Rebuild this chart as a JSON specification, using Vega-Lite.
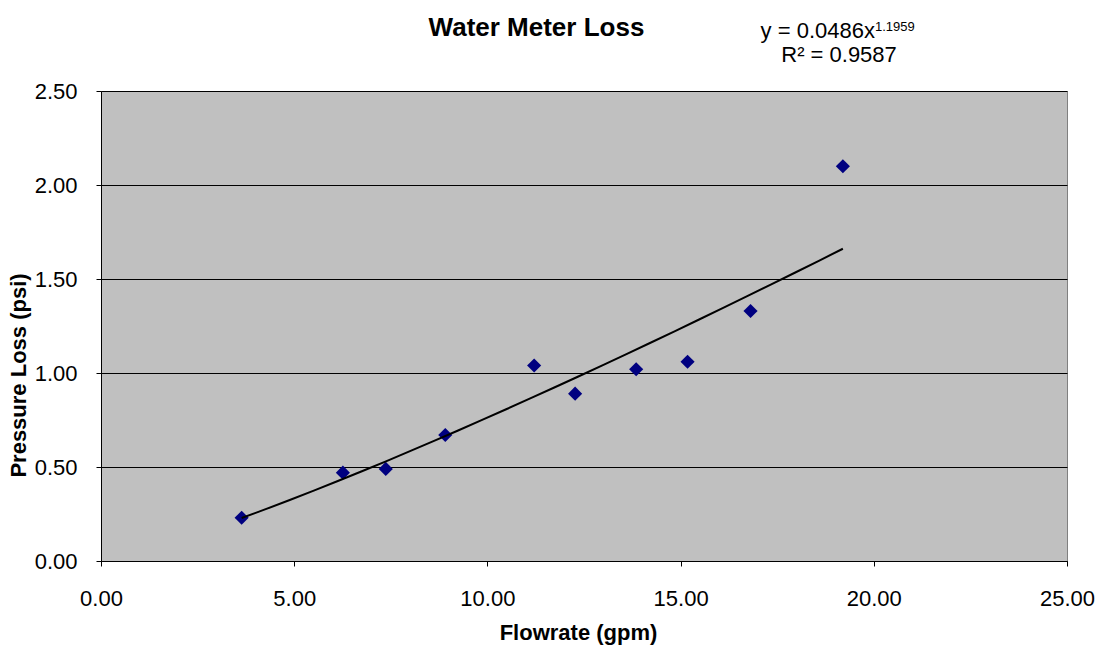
{
  "$schema": "https://vega.github.io/schema/vega-lite/v6.json",
  "autosize": "none",
  "width": 966,
  "height": 470,
  "padding": {"left": 101, "top": 91, "right": 40, "bottom": 86},
  "background": "white",
  "config": {
    "view": {"fill": "#C0C0C0", "stroke": "#808080", "strokeWidth": 1},
    "font": "Liberation Sans",
    "axis": {
      "labelFont": "Liberation Sans",
      "labelFontSize": 22,
      "labelColor": "black",
      "titleFont": "Liberation Sans",
      "titleFontSize": 22,
      "titleFontWeight": "bold",
      "titleColor": "black",
      "domainColor": "black",
      "tickColor": "black",
      "tickSize": 5,
      "gridColor": "black",
      "gridOpacity": 1,
      "gridWidth": 1
    }
  },
  "datasets": {
    "meter": [
      {"flow": 3.64, "loss": 0.23},
      {"flow": 6.26, "loss": 0.47},
      {"flow": 7.37, "loss": 0.49},
      {"flow": 8.91, "loss": 0.67},
      {"flow": 11.21, "loss": 1.04},
      {"flow": 12.27, "loss": 0.89},
      {"flow": 13.85, "loss": 1.02},
      {"flow": 15.18, "loss": 1.06},
      {"flow": 16.81, "loss": 1.33},
      {"flow": 19.2, "loss": 2.1}
    ],
    "one": [{"label": "annotation"}]
  },
  "layer": [
    {
      "data": {"name": "meter"},
      "mark": {"type": "point", "shape": "diamond", "filled": true, "color": "#000080", "opacity": 1, "size": 200},
      "encoding": {
        "x": {
          "field": "flow",
          "type": "quantitative",
          "scale": {"domain": [0, 25], "nice": false, "zero": true},
          "axis": {
            "title": "Flowrate (gpm)",
            "values": [0, 5, 10, 15, 20, 25],
            "format": ".2f",
            "grid": false,
            "labelPadding": 22,
            "labelFlush": false,
            "labelOverlap": false,
            "titleX": 477,
            "titleY": 78.5,
            "titleAlign": "center",
            "titleBaseline": "alphabetic"
          }
        },
        "y": {
          "field": "loss",
          "type": "quantitative",
          "scale": {"domain": [0, 2.5], "nice": false},
          "axis": {
            "title": "Pressure Loss (psi)",
            "values": [0, 0.5, 1, 1.5, 2, 2.5],
            "format": ".2f",
            "grid": true,
            "labelPadding": 19,
            "labelFlush": false,
            "labelOverlap": false,
            "titleX": -83,
            "titleY": 284,
            "titleAngle": -90,
            "titleAlign": "center",
            "titleBaseline": "middle"
          }
        }
      }
    },
    {
      "data": {"name": "meter"},
      "transform": [{"regression": "loss", "on": "flow", "method": "pow"}],
      "mark": {"type": "line", "color": "black", "strokeWidth": 2},
      "encoding": {
        "x": {"field": "flow", "type": "quantitative"},
        "y": {"field": "loss", "type": "quantitative"}
      }
    },
    {
      "data": {"name": "one"},
      "mark": {"type": "text", "align": "center", "baseline": "alphabetic", "fontSize": 26, "fontWeight": "bold", "font": "Liberation Sans", "color": "black", "text": "Water Meter Loss"},
      "encoding": {"x": {"datum": 11.27, "type": "quantitative"}, "y": {"datum": 2.795, "type": "quantitative"}}
    },
    {
      "data": {"name": "one"},
      "mark": {"type": "text", "align": "right", "baseline": "alphabetic", "fontSize": 22, "font": "Liberation Sans", "color": "black", "text": "y = 0.0486x"},
      "encoding": {"x": {"datum": 20.03, "type": "quantitative"}, "y": {"datum": 2.78, "type": "quantitative"}}
    },
    {
      "data": {"name": "one"},
      "mark": {"type": "text", "align": "left", "baseline": "alphabetic", "fontSize": 13, "font": "Liberation Sans", "color": "black", "text": "1.1959"},
      "encoding": {"x": {"datum": 20.03, "type": "quantitative"}, "y": {"datum": 2.82, "type": "quantitative"}}
    },
    {
      "data": {"name": "one"},
      "mark": {"type": "text", "align": "center", "baseline": "alphabetic", "fontSize": 22, "font": "Liberation Sans", "color": "black", "text": "R² = 0.9587"},
      "encoding": {"x": {"datum": 19.1, "type": "quantitative"}, "y": {"datum": 2.655, "type": "quantitative"}}
    }
  ]
}
